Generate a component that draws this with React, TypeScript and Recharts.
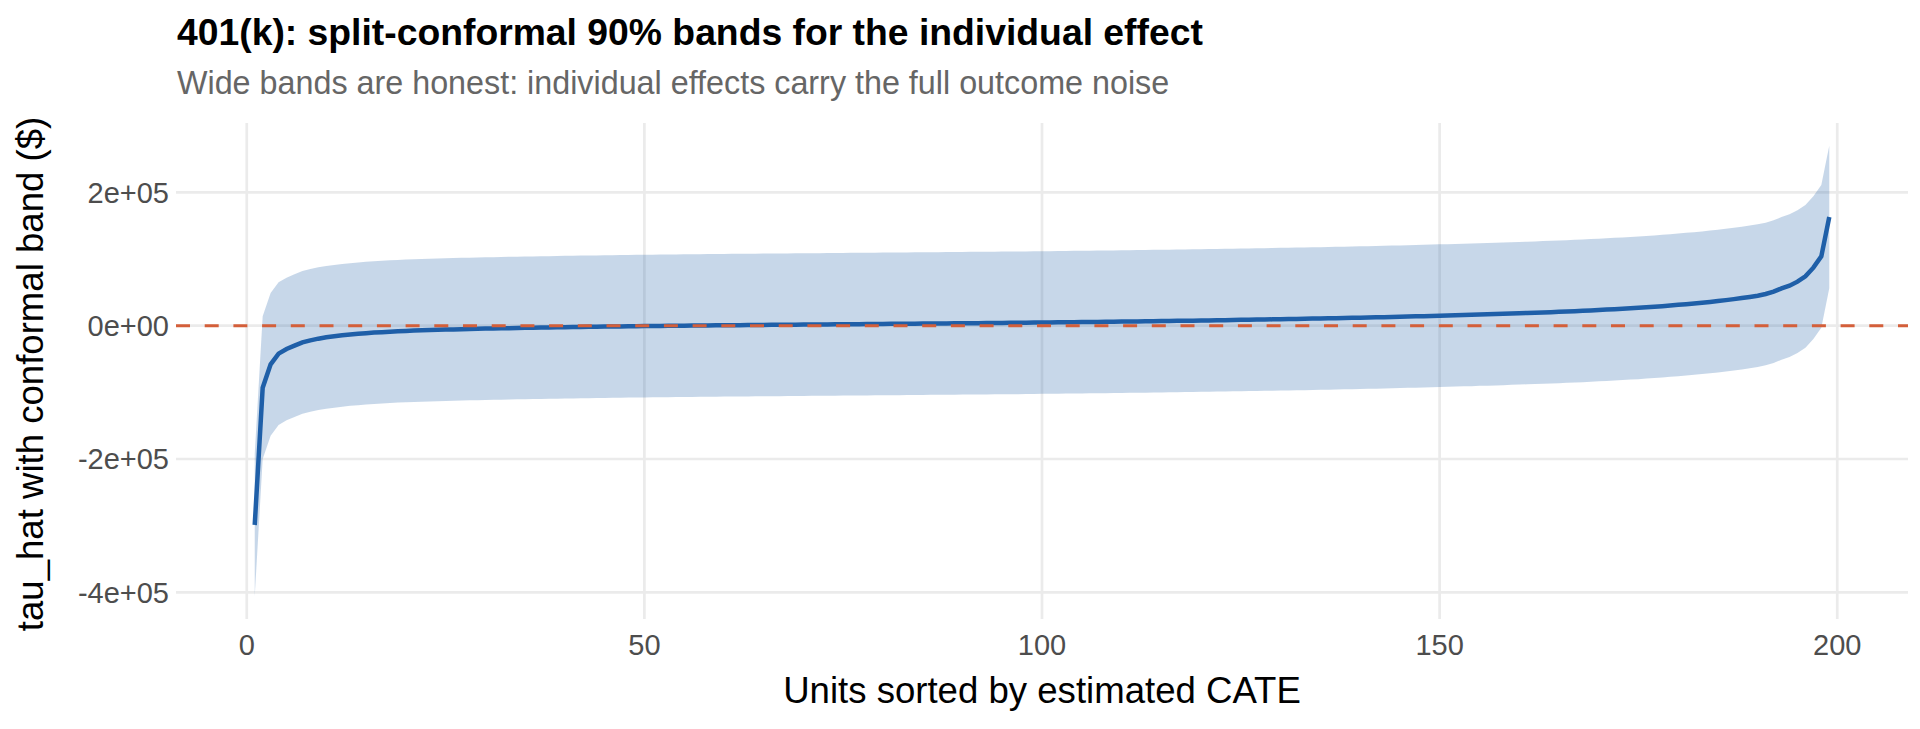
import {
  ComposedChart,
  Area,
  Line,
  XAxis,
  YAxis,
  CartesianGrid,
  ReferenceLine,
} from "recharts";

// estimated CATE (tau_hat) per unit, in $ thousands
const tauHatK = [
  -299, -93, -58, -42, -35, -30, -25, -22, -19.5, -17.5,
  -16, -14.5, -13.3, -12.2, -11.2, -10.4, -9.7, -9.0, -8.4, -7.9,
  -7.4, -7.0, -6.6, -6.2, -5.9, -5.6, -5.3, -5.0, -4.7, -4.4,
  -4.2, -4.0, -3.7, -3.5, -3.3, -3.1, -2.9, -2.7, -2.5, -2.3,
  -2.1, -1.9, -1.8, -1.6, -1.4, -1.3, -1.1, -0.9, -0.8, -0.6,
  -0.5, -0.4, -0.2, -0.1, 0.0, 0.1, 0.3, 0.4, 0.5, 0.6,
  0.7, 0.8, 0.9, 1.0, 1.1, 1.2, 1.3, 1.4, 1.5, 1.6,
  1.7, 1.8, 1.9, 2.0, 2.1, 2.2, 2.3, 2.4, 2.5, 2.6,
  2.7, 2.8, 2.9, 3.0, 3.1, 3.2, 3.3, 3.4, 3.5, 3.6,
  3.7, 3.8, 3.9, 4.0, 4.1, 4.2, 4.3, 4.4, 4.6, 4.7,
  4.8, 5.0, 5.1, 5.2, 5.4, 5.5, 5.6, 5.8, 5.9, 6.1,
  6.2, 6.4, 6.5, 6.7, 6.9, 7.0, 7.2, 7.4, 7.5, 7.7,
  7.9, 8.1, 8.3, 8.5, 8.7, 8.9, 9.1, 9.3, 9.5, 9.7,
  9.9, 10.1, 10.3, 10.6, 10.8, 11.0, 11.3, 11.5, 11.8, 12.0,
  12.3, 12.5, 12.8, 13.1, 13.4, 13.7, 14.0, 14.3, 14.6, 15.0,
  15.3, 15.6, 16.0, 16.3, 16.7, 17.0, 17.4, 17.8, 18.2, 18.6,
  19.0, 19.4, 19.9, 20.3, 20.8, 21.3, 21.8, 22.3, 22.9, 23.5,
  24.1, 24.7, 25.4, 26.1, 26.8, 27.6, 28.4, 29.3, 30.2, 31.2,
  32.2, 33.3, 34.4, 35.6, 36.9, 38.3, 39.8, 41.4, 43.1, 45.0,
  47.5, 51, 56, 60, 66, 74, 87, 104, 163,
];

// split-conformal half width (same for every unit), $
const conformalHalfWidth = 107000;

const xTicks = [0, 50, 100, 150, 200];
const yTicks = [-400000, -200000, 0, 200000];
const yTickLabels = ["-4e+05", "-2e+05", "0e+00", "2e+05"];

const data = tauHatK.map((t, i) => {
  const tau = t * 1000;
  return {
    unit: i + 1,
    tau,
    band: [tau - conformalHalfWidth, tau + conformalHalfWidth],
  };
});

const FONT = '"Liberation Sans", Arial, Helvetica, sans-serif';
const LINE_BLUE = "#1F5FA8";

const App = () => {
  return (
    <div
      style={{
        position: "absolute",
        left: 0,
        top: 0,
        width: 1920,
        height: 729,
        background: "#fff",
        fontFamily: FONT,
      }}
    >
      <ComposedChart
        width={1920}
        height={729}
        data={data}
        margin={{ top: 123, right: 12, bottom: 60, left: 26 }}
      >
        {/* grid only at the breaks, no panel border */}
        <CartesianGrid stroke="#EBEBEB" strokeWidth={2.7} syncWithTicks />
        <XAxis
          type="number"
          dataKey="unit"
          domain={[-8.9, 208.9]}
          ticks={xTicks}
          allowDataOverflow
          height={50}
          axisLine={false}
          tickLine={false}
          tickSize={0}
          tickMargin={15}
          tick={{ fill: "#4D4D4D", fontSize: 29, fontFamily: FONT }}
        />
        <YAxis
          type="number"
          domain={[-440000, 304000]}
          ticks={yTicks}
          allowDataOverflow
          width={150}
          axisLine={false}
          tickLine={false}
          tickSize={0}
          tickMargin={7}
          tickFormatter={(v) => yTickLabels[yTicks.indexOf(v)] ?? String(v)}
          tick={{ fill: "#4D4D4D", fontSize: 29, fontFamily: FONT }}
        />
        <Area
          type="linear"
          dataKey="band"
          stroke="none"
          fill={LINE_BLUE}
          fillOpacity={0.25}
          dot={false}
          activeDot={false}
          isAnimationActive={false}
        />
        <Line
          type="linear"
          dataKey="tau"
          stroke={LINE_BLUE}
          strokeWidth={4.5}
          dot={false}
          activeDot={false}
          isAnimationActive={false}
        />
        <ReferenceLine
          y={0}
          stroke="#D45F3A"
          strokeWidth={3}
          strokeDasharray="14 14.7"
        />
      </ComposedChart>

      <svg
        width={1920}
        height={729}
        style={{ position: "absolute", left: 0, top: 0, pointerEvents: "none" }}
      >
        <text x={177} y={45} fontSize={37.3} fontWeight="bold" fill="#000" fontFamily={FONT}>
          401(k): split-conformal 90% bands for the individual effect
        </text>
        <text x={177} y={94} fontSize={32.3} fill="#666666" fontFamily={FONT}>
          Wide bands are honest: individual effects carry the full outcome noise
        </text>
        <text
          x={1042}
          y={703}
          fontSize={36.6}
          textAnchor="middle"
          fill="#000"
          fontFamily={FONT}
        >
          Units sorted by estimated CATE
        </text>
        <text
          transform="translate(43 374) rotate(-90)"
          fontSize={36.6}
          textAnchor="middle"
          fill="#000"
          fontFamily={FONT}
        >
          tau_hat with conformal band ($)
        </text>
      </svg>
    </div>
  );
};

export default App;
